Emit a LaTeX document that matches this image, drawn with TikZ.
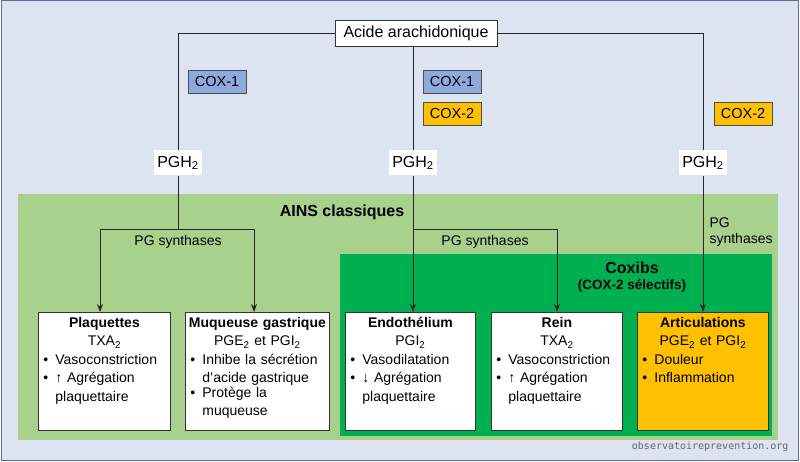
\documentclass[tikz,border=0pt]{standalone}
\usepackage{fontspec}
\setmainfont{Liberation Sans}
\setmonofont{DejaVu Sans Mono}
\usetikzlibrary{arrows.meta}
\definecolor{bgblue}{HTML}{DCE4F2}
\definecolor{bordblue}{HTML}{5A6E96}
\definecolor{lgreen}{HTML}{A9D18E}
\definecolor{dgreen}{HTML}{00B050}
\definecolor{coxone}{HTML}{8EA9DB}
\definecolor{coxtwo}{HTML}{FFC000}
\newcommand{\bul}[1]{\par\noindent\hbox to 15pt{\hskip3pt\textbullet\hfil}\parbox[t]{\dimexpr\linewidth-15pt}{\raggedright #1}}
\begin{document}
\begin{tikzpicture}[x=1pt,y=-1pt,
  every node/.style={font=\fontsize{14}{16}\selectfont},
  lbl/.style={fill=white,inner sep=3pt,minimum height=25pt,font=\fontsize{16}{18}\selectfont},
  cox/.style={draw=black!70,minimum width=58pt,minimum height=23pt,inner sep=1pt,font=\fontsize{14.5}{16}\selectfont},
  organ/.style={draw=black!80,fill=white,line width=0.8pt,anchor=north west},
  otext/.style={anchor=north,text width=#1,inner sep=0pt,font=\fontsize{14}{18.5}\selectfont},
  ln/.style={draw=black!85,line width=0.8pt},
  arr/.style={ln,-{Stealth[length=8pt,width=6pt]}}]
\useasboundingbox (0,0) rectangle (800,462);
\draw[fill=bgblue,draw=bordblue,line width=1pt] (1,1) rectangle (798,460);
\fill[lgreen] (18,194) rectangle (778,440);
\fill[dgreen] (340,254) rectangle (772,436);
\node[font=\fontsize{16}{18}\selectfont\bfseries] (ains) at (342,212) {AINS classiques};
\node[font=\fontsize{16}{18}\selectfont\bfseries,align=center] (coxibs) at (632,277) {Coxibs\\[-2pt]\fontsize{13.5}{15}\selectfont(COX-2 sélectifs)};
\node[draw=black!80,fill=white,minimum width=162pt,minimum height=26pt,font=\fontsize{16}{18}\selectfont] (aa) at (416,33) {Acide arachidonique};
\node[lbl] (p1) at (178,163) {PGH\textsubscript{2}};
\node[lbl] (p2) at (413,163) {PGH\textsubscript{2}};
\node[lbl] (p3) at (703,163) {PGH\textsubscript{2}};
\node[cox,fill=coxone] (c1) at (217,82) {COX-1};
\node[cox,fill=coxone] (c2) at (452,82) {COX-1};
\node[cox,fill=coxtwo] (c3) at (452,114) {COX-2};
\node[cox,fill=coxtwo] (c4) at (743,114) {COX-2};
% organ boxes
\node[organ,minimum width=132pt,minimum height=118pt] (b1) at (38,312) {};
\node[organ,minimum width=144pt,minimum height=118pt] (b2) at (185,312) {};
\node[organ,minimum width=130pt,minimum height=118pt] (b3) at (345,312) {};
\node[organ,minimum width=131pt,minimum height=118pt] (b4) at (491,312) {};
\node[organ,fill=coxtwo,minimum width=131pt,minimum height=118pt] (b5) at (637,312) {};
\node[otext=128pt] (t1) at ([yshift=-5pt]b1.north) {{\centering\textbf{Plaquettes}\par TXA\textsubscript{2}\par}\bul{Vasoconstriction}\bul{↑ Agrégation\\plaquettaire}};
\node[otext=140pt] (t2) at ([yshift=-5pt]b2.north) {{\centering\textbf{Muqueuse gastrique}\par PGE\textsubscript{2} et PGI\textsubscript{2}\par}\bul{Inhibe la sécrétion\\d’acide gastrique}\bul{Protège la\\muqueuse}};
\node[otext=126pt] (t3) at ([yshift=-5pt]b3.north) {{\centering\textbf{Endothélium}\par PGI\textsubscript{2}\par}\bul{Vasodilatation}\bul{↓ Agrégation\\plaquettaire}};
\node[otext=127pt] (t4) at ([yshift=-5pt]b4.north) {{\centering\textbf{Rein}\par TXA\textsubscript{2}\par}\bul{Vasoconstriction}\bul{↑ Agrégation\\plaquettaire}};
\node[otext=127pt] (t5) at ([yshift=-5pt]b5.north) {{\centering\textbf{Articulations}\par PGE\textsubscript{2} et PGI\textsubscript{2}\par}\bul{Douleur}\bul{Inflammation}};
% connectors
\draw[ln] (aa.west) -| (p1.north);
\draw[ln] (aa.south -| p2) -- (p2.north);
\draw[ln] (aa.east) -| (p3.north);
\coordinate (j1) at (178,229);
\coordinate (j2) at (413,229);
\draw[ln] (p1.south) -- (j1);
\draw[arr] (j1) -| (b1.north -| 100,0);
\draw[arr] (j1) -| (b2.north -| 254,0);
\draw[arr] (p2.south) -- (b3.north -| p2);
\draw[arr] (j2) -| (b4.north -| 557,0);
\draw[arr] (p3.south) -- (b5.north -| p3);
\node (s1) at (178,242) {PG synthases};
\node (s2) at (485,242) {PG synthases};
\node[align=left,anchor=west] (s3) at (706,232) {PG\\synthases};
\node[font=\ttfamily\fontsize{10}{12}\selectfont,text=black!60,anchor=east] (wm) at (792,447) {observatoireprevention.org};
\end{tikzpicture}
\end{document}
